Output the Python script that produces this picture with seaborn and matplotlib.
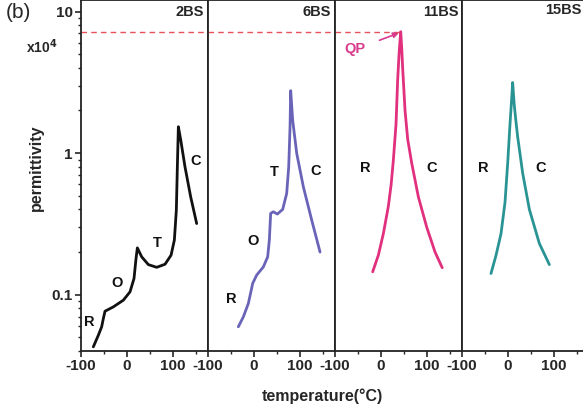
import numpy as np
import pandas as pd
import matplotlib
matplotlib.use("Agg")
import matplotlib.pyplot as plt
import seaborn as sns
from matplotlib.ticker import FixedLocator, LogLocator, NullFormatter

sns.set_style("ticks")
plt.rcParams['font.family'] = ['Liberation Sans', 'DejaVu Sans']
plt.rcParams['font.weight'] = 'bold'
plt.rcParams['axes.unicode_minus'] = False

# ---- data (temperature in °C, permittivity in x10^4) ----
t_2bs = [-73.2, -62.3, -55.1, -51.4, -47.8, -29.7, -8.0, 6.5, 15.2, 19.6, 22.5, 31.9, 46.4,
         64.5, 82.6, 95.7, 102.9, 107.2, 109.4, 111.6, 116.7, 126.0, 138.4, 151.4]
e_2bs = [0.0428, 0.0517, 0.0593, 0.0679, 0.0764, 0.082, 0.0914, 0.1047, 0.13, 0.18, 0.214, 0.185,
         0.163, 0.156, 0.164, 0.19, 0.243, 0.396, 0.8, 1.535, 1.24, 0.8, 0.49, 0.318]

t_6bs = [-34.1, -23.2, -12.3, -2.9, 5.8, 20.3, 29.7, 33.3, 36.2, 42.0, 50.7, 62.3, 71.0, 75.4,
         78.3, 79.7, 84.0, 92.8, 107.2, 125.4, 143.5]
e_6bs = [0.0593, 0.0697, 0.0867, 0.12, 0.1375, 0.157, 0.185, 0.243, 0.375, 0.385, 0.371, 0.4,
         0.519, 0.8, 1.535, 2.76, 1.71, 0.995, 0.578, 0.336, 0.2]

t_11bs = [-18.1, -5.8, 5.1, 15.9, 22.0, 26.8, 32.6, 36.2, 39.5, 42.8, 45.0, 47.2, 52.2, 58.0,
          66.7, 81.2, 99.3, 117.4, 133.0]
e_11bs = [0.145, 0.19, 0.27, 0.42, 0.6, 0.89, 1.6, 3.3, 5.2, 7.2, 5.5, 3.9, 2.0, 1.25,
          0.85, 0.49, 0.3, 0.2, 0.155]

t_15bs = [-37.0, -26.0, -15.2, -6.5, -0.7, 4.3, 7.5, 10.1, 13.5, 17.0, 21.0, 31.9, 46.4, 68.1, 89.9]
e_15bs = [0.141, 0.19, 0.27, 0.45, 0.85, 1.6, 2.3, 3.15, 2.2, 1.7, 1.3, 0.72, 0.4, 0.23, 0.163]

samples = ["2BS", "6BS", "11BS", "15BS"]
colors = ["#111111", "#6a64b8", "#e0307e", "#2a9494"]
series = [(t_2bs, e_2bs), (t_6bs, e_6bs), (t_11bs, e_11bs), (t_15bs, e_15bs)]

phase_labels = [
    [("R", -82.6, 0.064), ("O", -21.7, 0.12), ("T", 65, 0.23), ("C", 150, 0.88)],
    [("R", -50, 0.093), ("O", -2, 0.24), ("T", 43.5, 0.73), ("C", 135, 0.75)],
    [("R", -35, 0.78), ("C", 111, 0.78)],
    [("R", -54, 0.78), ("C", 72, 0.78)],
]

qp_value = 7.2
qp_temp = 42.8

W, H = 583, 417
fig = plt.figure(figsize=(W / 100, H / 100), dpi=100)

left_px, panel_w, bottom_px, top_px = 81, 127, 351, 0
xlim = (-100, 176)
ylim = (0.04, 12.06)

axes = []
for i, (name, col, (tt, ee)) in enumerate(zip(samples, colors, series)):
    x0 = (left_px + i * panel_w) / W
    ax = fig.add_axes([x0, 1 - bottom_px / H, panel_w / W, (bottom_px - top_px) / H])
    df = pd.DataFrame({"T": tt, "eps": ee})
    sns.lineplot(data=df, x="T", y="eps", ax=ax, color=col, lw=2.0,
                 sort=False, estimator=None)
    ax.set_yscale("log")
    ax.set_xlim(*xlim)
    ax.set_ylim(*ylim)
    ax.set_xlabel("")
    ax.set_ylabel("")
    ax.xaxis.set_major_locator(FixedLocator([-100, 0, 100]))
    ax.xaxis.set_minor_locator(FixedLocator([-50, 50, 150]))
    ax.tick_params(axis="x", which="major", direction="out", length=4, width=1.2,
                   labelsize=11, pad=2)
    ax.tick_params(axis="x", which="minor", direction="out", length=2.5, width=1.0)
    for lab in ax.get_xticklabels():
        lab.set_fontweight("bold")
    for s in ax.spines.values():
        s.set_linewidth(1.3)
        s.set_color("#222222")
    if i == 0:
        ax.yaxis.set_major_locator(FixedLocator([0.1, 1, 10]))
        ax.yaxis.set_minor_locator(LogLocator(base=10, subs=np.arange(2, 10)))
        ax.yaxis.set_minor_formatter(NullFormatter())
        ax.set_yticklabels(["0.1", "1", "10"], fontweight="bold", fontsize=11)
        ax.tick_params(axis="y", which="major", direction="out", length=4, width=1.2, pad=2)
        ax.tick_params(axis="y", which="minor", direction="out", length=2.5, width=1.0)
    else:
        ax.tick_params(axis="y", which="both", left=False, labelleft=False)
    if i < 3:
        ax.text(0.97, 0.985, name, transform=ax.transAxes, ha="right", va="top",
                fontsize=10.5, fontweight="bold")
    else:
        fig.text(582 / W, 1 - 3 / H, name, ha="right", va="top",
                 fontsize=10.5, fontweight="bold")
    for (lab, lx, ly) in phase_labels[i]:
        ax.text(lx, ly, lab, ha="center", va="center", fontsize=10.5, fontweight="bold",
                color="#111111")
    axes.append(ax)

# dashed QP reference line
for ax in axes[:2]:
    ax.plot(xlim, [qp_value, qp_value], ls=(0, (4, 3)), color="#e8505a", lw=1.0)
axes[2].plot([xlim[0], qp_temp], [qp_value, qp_value], ls=(0, (4, 3)), color="#e8505a", lw=1.0)
axes[2].annotate("QP", xy=(qp_temp - 4, qp_value * 0.98), xytext=(-56, 5.4),
                 ha="center", va="center", fontsize=10.5, fontweight="bold", color="#d83c8c",
                 arrowprops=dict(arrowstyle="-|>", color="#d83c8c", lw=1.2,
                                 shrinkA=8, shrinkB=0, mutation_scale=8))

fig.text(18 / W, 1 - 12 / H, "(b)", ha="center", va="center", fontsize=15, fontweight="normal")
fig.text(42 / W, 1 - 47 / H, r"x10$^4$", ha="center", va="center", fontsize=10, fontweight="bold")
fig.text(36 / W, 1 - 168 / H, "permittivity", ha="center", va="center", rotation=90,
         fontsize=11.5, fontweight="bold")
fig.text(322 / W, 1 - 396 / H, "temperature(°C)", ha="center", va="center",
         fontsize=11.5, fontweight="bold")

fig.savefig("out.png", dpi=100)
